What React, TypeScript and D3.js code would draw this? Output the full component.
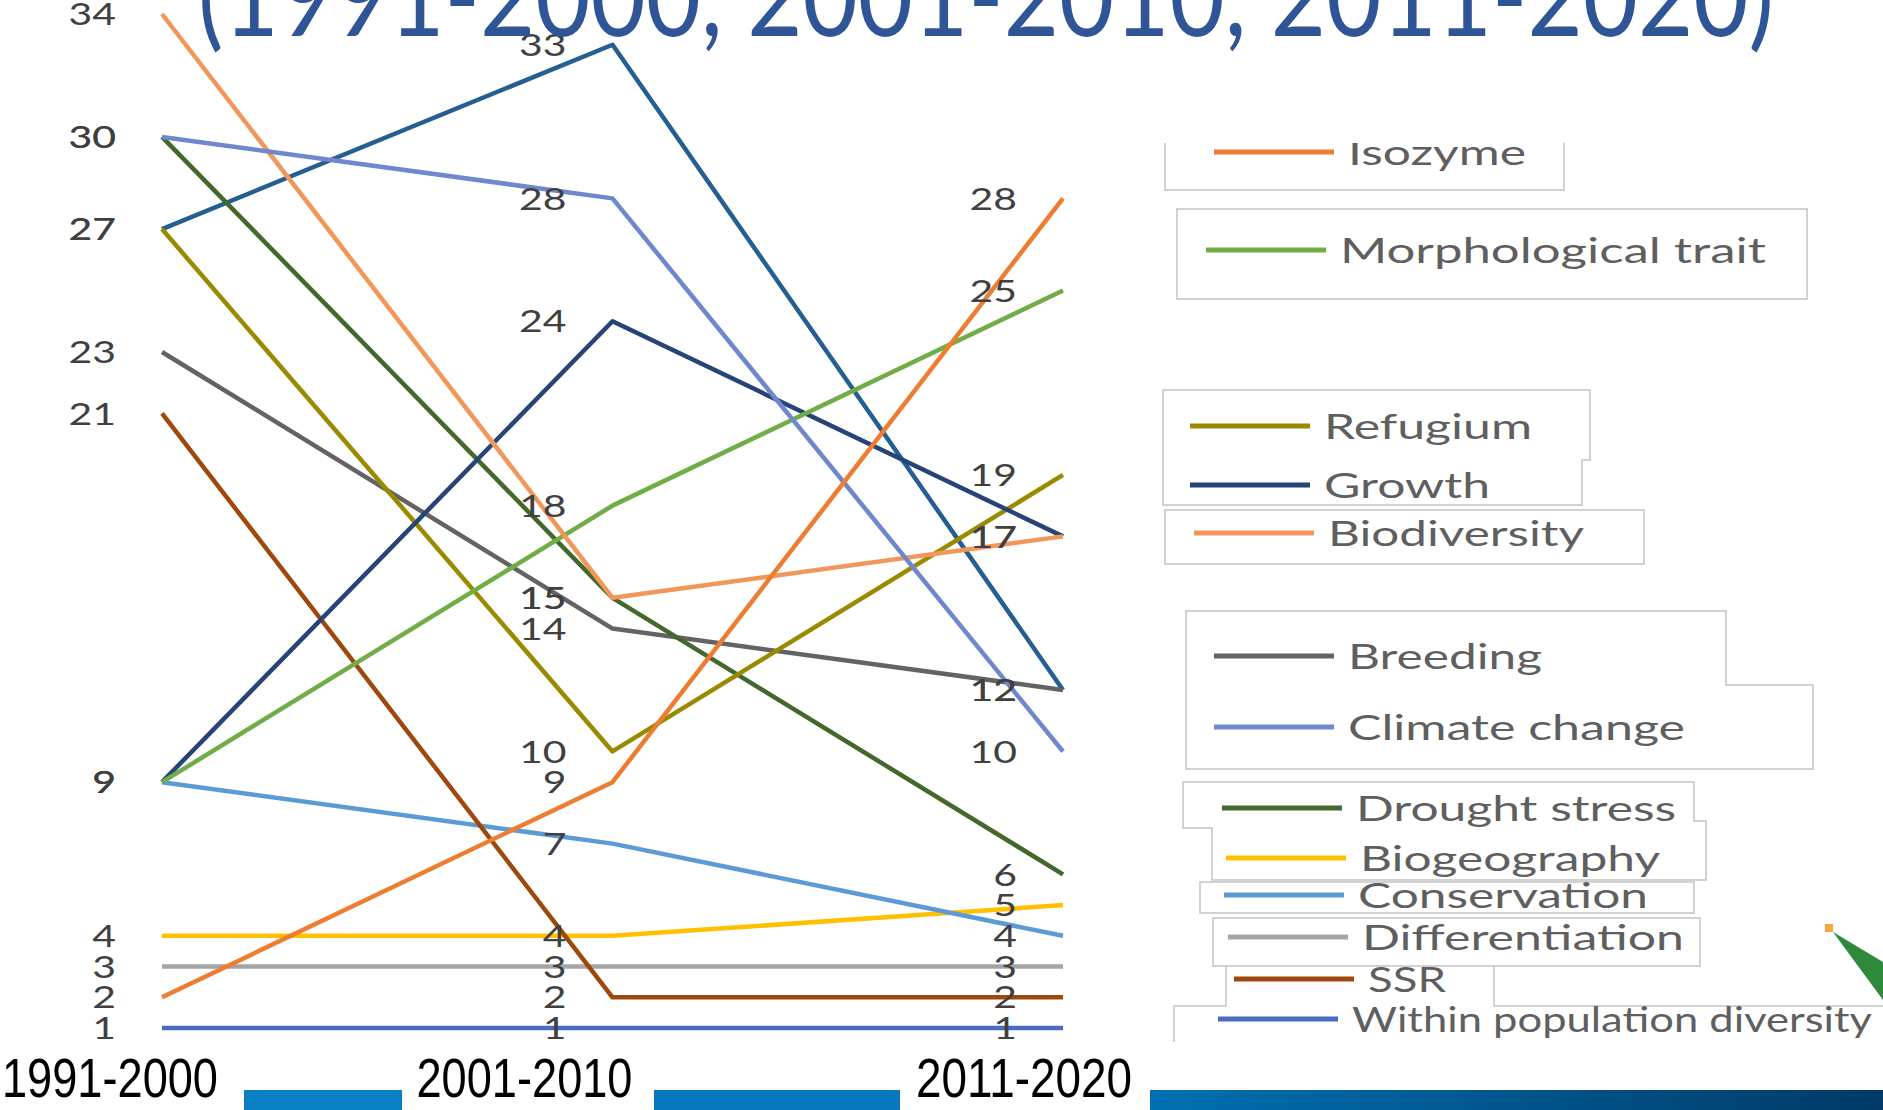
import { useEffect, useRef } from 'react';
import * as d3 from 'd3';

const periods = ['1991-2000', '2001-2010', '2011-2020'];

const isozyme = [2, 9, 28];
const morphologicalTrait = [9, 18, 25];
const refugium = [27, 10, 19];
const growth = [9, 24, 17];
const biodiversity = [34, 15, 17];
const breeding = [23, 14, 12];
const climateChange = [30, 28, 10];
const droughtStress = [30, 15, 6];
const biogeography = [4, 4, 5];
const conservation = [9, 7, 4];
const differentiation = [3, 3, 3];
const ssr = [21, 2, 2];
const withinPopulation = [1, 1, 1];
const hiddenSeries = [27, 33, 12]; // its legend entry sits under the title

const series = [
  { name: 'Hidden', values: hiddenSeries, color: '#255e91' },
  { name: 'Within population diversity', values: withinPopulation, color: '#4a6cc0' },
  { name: 'Differentiation', values: differentiation, color: '#a5a5a5' },
  { name: 'Biogeography', values: biogeography, color: '#ffc000' },
  { name: 'Conservation', values: conservation, color: '#5b9bd5' },
  { name: 'SSR', values: ssr, color: '#9e480e' },
  { name: 'Breeding', values: breeding, color: '#636363' },
  { name: 'Drought stress', values: droughtStress, color: '#43682b' },
  { name: 'Refugium', values: refugium, color: '#9a8a00' },
  { name: 'Growth', values: growth, color: '#264478' },
  { name: 'Morphological trait', values: morphologicalTrait, color: '#70ad47' },
  { name: 'Biodiversity', values: biodiversity, color: '#f1975a' },
  { name: 'Climate change', values: climateChange, color: '#6f87cc' },
  { name: 'Isozyme', values: isozyme, color: '#ed7d31' },
];

// legend rows (name, swatch left x, row centre y, text width)
const legendRows: [string, number, number, number][] = [
  ['Isozyme', 1214, 152, 178],
  ['Morphological trait', 1206, 250, 426],
  ['Refugium', 1190, 426, 208],
  ['Growth', 1190, 485, 166],
  ['Biodiversity', 1194, 533, 256],
  ['Breeding', 1214, 656, 194],
  ['Climate change', 1214, 727, 337],
  ['Drought stress', 1222, 808, 320],
  ['Biogeography', 1226, 858, 300],
  ['Conservation', 1224, 895, 290],
  ['Differentiation', 1228, 937, 322],
  ['SSR', 1234, 979, 78],
  ['Within population diversity', 1218, 1019, 520],
];

// outlines of the legend text boxes
const legendBoxes = [
  'M1165,143 V190 H1564 V143',
  'M1177,209 H1807 V299 H1177 Z',
  'M1163,390 H1590 V460 H1582 V505 H1163 Z',
  'M1165,510 H1644 V564 H1165 Z',
  'M1186,611 H1726 V685 H1813 V769 H1186 Z',
  'M1183,782 H1694 V821 H1706 V880 H1212 V828 H1183 Z',
  'M1200,882 H1694 V913 H1200 Z',
  'M1213,918 H1700 V966 H1213 Z',
  'M1226,966 V1006 H1174 V1042',
  'M1494,966 V1006 H1883',
];

const labelOffsets = [-52, -88, -39];

export default function App() {
  const ref = useRef<SVGSVGElement>(null);

  useEffect(() => {
    if (!ref.current) return;
    const svg = d3.select(ref.current);
    svg.selectAll('*').remove();

    const x = d3.scalePoint<string>().domain(periods).range([162, 1063]);
    const y = d3.scaleLinear().domain([1, 34]).range([1028, 14]);

    const line = d3
      .line<number>()
      .x((_, i) => x(periods[i]) as number)
      .y(d => y(d));

    svg.append('rect').attr('width', 1883).attr('height', 1110).attr('fill', '#fff');

    // lines
    svg
      .selectAll('.series')
      .data(series)
      .enter()
      .append('path')
      .attr('class', 'series')
      .attr('fill', 'none')
      .attr('stroke', d => d.color)
      .attr('stroke-width', 4.5)
      .attr('stroke-linejoin', 'round')
      .attr('d', d => line(d.values));

    // data labels (the slide stretches them sideways)
    const points = series.flatMap(s => s.values.map((v, i) => ({ v, p: periods[i] })));
    svg
      .selectAll('.dlabel')
      .data(points)
      .enter()
      .append('text')
      .attr('class', 'dlabel')
      .attr('transform', d => `translate(${(x(d.p) as number) - 46},${y(d.v)}) scale(1.32,1)`)
      .attr('dy', '0.36em')
      .attr('text-anchor', 'end')
      .attr('font-family', 'Lato, "Open Sans", sans-serif')
      .attr('font-size', 31)
      .attr('fill', '#404040')
      .text(d => d.v);

    // category labels
    svg
      .selectAll('.cat')
      .data(periods)
      .enter()
      .append('text')
      .attr('class', 'cat')
      .attr('x', (d, i) => (x(d) as number) + labelOffsets[i])
      .attr('y', 1097)
      .attr('text-anchor', 'middle')
      .attr('font-family', '"Liberation Sans Narrow", "Liberation Sans", sans-serif')
      .attr('font-size', 56)
      .attr('textLength', 216)
      .attr('lengthAdjust', 'spacingAndGlyphs')
      .attr('fill', '#000')
      .text(d => d);

    // legend boxes
    svg
      .selectAll('.lbox')
      .data(legendBoxes)
      .enter()
      .append('path')
      .attr('class', 'lbox')
      .attr('d', d => d)
      .attr('fill', 'none')
      .attr('stroke', '#c4c4c4')
      .attr('stroke-width', 1.5);

    const colorOf = new Map(series.map(s => [s.name, s.color]));
    svg
      .append('clipPath')
      .attr('id', 'legclip')
      .append('rect')
      .attr('x', 1100)
      .attr('y', 143)
      .attr('width', 800)
      .attr('height', 1000);

    const leg = svg.append('g').attr('clip-path', 'url(#legclip)');
    const rows = leg
      .selectAll('.lrow')
      .data(legendRows)
      .enter()
      .append('g')
      .attr('class', 'lrow');
    rows
      .append('line')
      .attr('x1', d => d[1])
      .attr('x2', d => d[1] + 120)
      .attr('y1', d => d[2])
      .attr('y2', d => d[2])
      .attr('stroke', d => colorOf.get(d[0]) as string)
      .attr('stroke-width', 5);
    rows
      .append('text')
      .attr('x', d => d[1] + 134)
      .attr('y', d => d[2])
      .attr('dy', '0.36em')
      .attr('font-family', 'Lato, "Open Sans", sans-serif')
      .attr('font-size', 35)
      .attr('textLength', d => d[3])
      .attr('lengthAdjust', 'spacingAndGlyphs')
      .attr('fill', '#5f5f5f')
      .text(d => d[0]);

    // title (top cut off by the frame)
    svg
      .append('text')
      .attr('x', 198)
      .attr('y', 36)
      .attr('font-family', 'Lato, "Open Sans", sans-serif')
      .attr('font-size', 112)
      .attr('textLength', 1576)
      .attr('lengthAdjust', 'spacingAndGlyphs')
      .attr('fill', '#2f5597')
      .text('(1991-2000, 2001-2010, 2011-2020)');

    // bottom bars
    const defs = svg.append('defs');
    const grad = defs.append('linearGradient').attr('id', 'barGrad').attr('x1', 0).attr('x2', 1);
    grad.append('stop').attr('offset', '0%').attr('stop-color', '#0070b2');
    grad.append('stop').attr('offset', '100%').attr('stop-color', '#003a66');
    svg.append('rect').attr('x', 244).attr('y', 1090).attr('width', 158).attr('height', 20).attr('fill', '#0a80c4');
    svg.append('rect').attr('x', 654).attr('y', 1090).attr('width', 246).attr('height', 20).attr('fill', '#0877bd');
    svg.append('rect').attr('x', 1150).attr('y', 1090).attr('width', 733).attr('height', 20).attr('fill', 'url(#barGrad)');

    // leaf decoration
    svg.append('rect').attr('x', 1825).attr('y', 924).attr('width', 8).attr('height', 8).attr('fill', '#f5a742');
    svg
      .append('path')
      .attr('d', 'M1833,932 L1883,962 L1883,1000 Z')
      .attr('fill', '#2e8a3a');
  }, []);

  return (
    <svg
      ref={ref}
      width={1883}
      height={1110}
      style={{ position: 'absolute', left: 0, top: 0, display: 'block' }}
    />
  );
}
